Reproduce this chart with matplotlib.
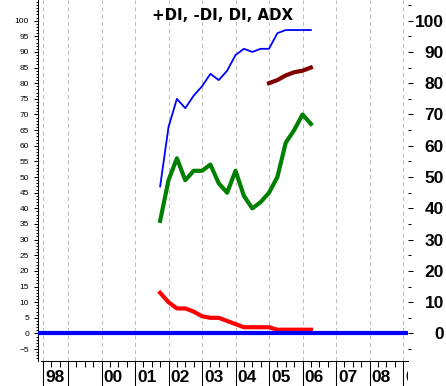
import matplotlib
matplotlib.use("Agg")
import matplotlib.pyplot as plt
from matplotlib.ticker import FixedLocator, MultipleLocator
from matplotlib.transforms import offset_copy, Bbox

# quarterly readings, 2001 Q4 .. 2006 Q2
quarters = [2001.75, 2002.0, 2002.25, 2002.5, 2002.75, 2003.0, 2003.25, 2003.5,
            2003.75, 2004.0, 2004.25, 2004.5, 2004.75, 2005.0, 2005.25, 2005.5,
            2005.75, 2006.0, 2006.25]
plus_di = [47, 66, 75, 72, 76, 79, 83, 81, 84, 89, 91, 90, 91, 91, 96, 97, 97, 97, 97]
di = [36, 49, 56, 49, 52, 52, 54, 48, 45, 52, 44, 40, 42, 45, 50, 61, 65, 70, 67]
minus_di = [13, 10, 8, 8, 7, 5.5, 5, 5, 4, 3, 2, 2, 2, 2, 1.2, 1.2, 1.2, 1.2, 1.2]
adx_x = [2005.0, 2005.25, 2005.5, 2005.75, 2006.0, 2006.25]
adx = [80, 81, 82.5, 83.5, 84, 85]

year_ticks = [1998.25, 1999, 2000, 2001, 2002, 2003, 2004, 2005, 2006, 2007, 2008, 2009]
year_labels = ['98', '', '00', '01', '02', '03', '04', '05', '06', '07', '08', '09']
left_ticks = list(range(-5, 101, 5))
right_ticks = list(range(0, 101, 10))
right_minor = list(range(-5, 106, 10))

fig = plt.figure(figsize=(4.46, 3.86), dpi=100)
ax = fig.add_axes([38 / 446, 25 / 386, 370 / 446, 361 / 386])
ax.set_xlim(1998.104, 2009.149)
ax.set_ylim(-8.8, 106.6)

for x in year_ticks:
    ax.axvline(x, color='#c0c0c0', lw=0.75, ls=(0, (4, 3)), zorder=0)

ax.plot(quarters, minus_di, color='#ff0000', lw=3, zorder=2)
ax.axhline(0, color='#0000ff', lw=3, zorder=3)
ax.plot(quarters, di, color='#008000', lw=3, zorder=2)
ax.plot(quarters, plus_di, color='#0000ff', lw=1.3, zorder=2)
ax.plot(adx_x, adx, color='#800000', lw=3, zorder=2)

ax.spines['top'].set_visible(False)
ax.spines['right'].set_visible(False)
ax.spines['left'].set_linewidth(0.75)
ax.spines['bottom'].set_linewidth(0.75)
ax.spines['bottom'].set_bounds(1998.19, 2009.149)

# left axis: small labels every 5, minor ticks every 1
ax.yaxis.set_major_locator(FixedLocator(left_ticks))
ax.yaxis.set_minor_locator(MultipleLocator(1))
ax.tick_params(axis='y', which='major', length=2.9, width=0.75, pad=3.6,
               labelsize=6, labelfontfamily='Liberation Sans')
ax.tick_params(axis='y', which='minor', length=1.5, width=0.75)

# bottom axis: tall year ticks, short quarter ticks
ax.set_xticks(year_ticks)
ax.xaxis.set_minor_locator(MultipleLocator(0.25))
ax.tick_params(axis='x', which='major', length=18, width=0.75, labelbottom=False)
ax.tick_params(axis='x', which='minor', length=4.3, width=0.75)

lbl_tr = offset_copy(ax.get_xaxis_transform(), fig=fig, x=2, y=-21, units='dots')
clip = Bbox.from_extents(0, 0, 408, 386)
for x, s in zip(year_ticks, year_labels):
    t = fig.text(x, 0, s, transform=lbl_tr, ha='left', va='baseline',
                 fontsize=12.5, fontweight='bold', family='Liberation Sans')
    t.set_clip_box(clip)
    t.set_clip_on(True)

# right axis: big bold labels
ax2 = ax.twinx()
ax2.set_ylim(ax.get_ylim())
for sp in ax2.spines.values():
    sp.set_visible(False)
ax2.set_yticks(right_ticks)
ax2.set_yticks(right_minor, minor=True)
ax2.tick_params(axis='y', which='major', length=3.6, width=0.75, pad=22.3,
                labelsize=12.5, labelfontfamily='Liberation Sans')
ax2.tick_params(axis='y', which='minor', length=2.2, width=0.75)
for lbl in ax2.get_yticklabels():
    lbl.set_ha('right')
    lbl.set_fontweight('bold')

ax.text(0.5, 1, '+DI, -DI, DI, ADX',
        transform=offset_copy(ax.transAxes, fig=fig, y=-19.5, units='dots'),
        ha='center', va='baseline', fontsize=10.8, fontweight='bold')

fig.savefig('out.png', dpi=100)
